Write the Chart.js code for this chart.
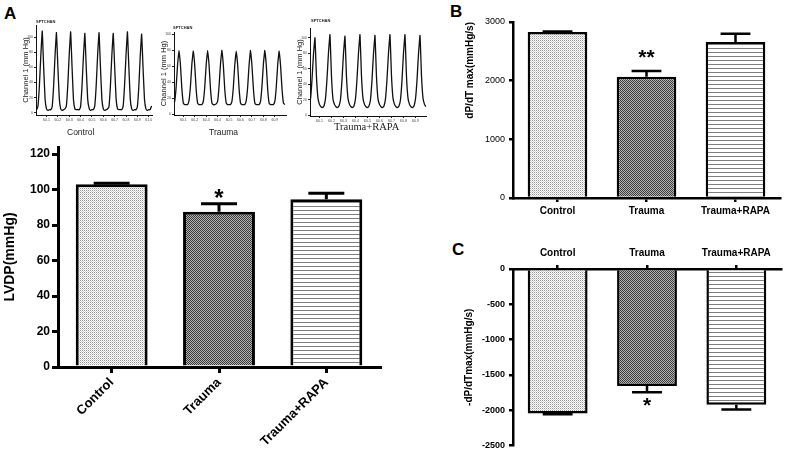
<!DOCTYPE html>
<html>
<head>
<meta charset="utf-8">
<script src="https://cdn.jsdelivr.net/npm/chart.js"></script>
<style>
  body { margin: 0; background: #fff; }
  #fig { position: relative; width: 786px; height: 455px; overflow: hidden; font-family: "Liberation Sans", Arial, sans-serif; }
  #fig canvas { position: absolute; }
  .txt { position: absolute; white-space: nowrap; color: #000; }
  .tag { font-weight: bold; font-size: 17px; line-height: 17px; }
  .cap { font-size: 8.5px; line-height: 9px; color: #222; }
  .hdr { font-size: 4px; line-height: 4px; font-weight: bold; color: #222; }
</style>
</head>
<body>
<div id="fig">
  <div class="txt tag" style="left:4px;top:5px">A</div>
  <div class="txt tag" style="left:450px;top:3px">B</div>
  <div class="txt tag" style="left:452px;top:241px">C</div>

  <canvas id="ctrlTrace" width="140" height="110" style="left:20px;top:18px"></canvas>
  <canvas id="traumaTrace" width="135" height="110" style="left:158px;top:18px"></canvas>
  <canvas id="rapaTrace" width="140" height="110" style="left:294px;top:18px"></canvas>
  <div class="txt hdr" style="left:36px;top:20px">SPTCHAN</div>
  <div class="txt hdr" style="left:173px;top:26px">SPTCHAN</div>
  <div class="txt hdr" style="left:311px;top:19px">SPTCHAN</div>
  <div class="txt cap" style="left:67px;top:128px">Control</div>
  <div class="txt cap" style="left:209px;top:128px">Trauma</div>
  <div class="txt cap" style="left:334px;top:121px;font-family:'Liberation Serif',serif;font-size:10.5px;line-height:11px">Trauma+RAPA</div>

  <canvas id="lvdpChart" width="400" height="325" style="left:0px;top:130px"></canvas>
  <canvas id="dpMaxChart" width="326" height="220" style="left:460px;top:0px"></canvas>
  <canvas id="dpMinChart" width="326" height="235" style="left:460px;top:220px"></canvas>
</div>

<script>
// groups and values
const groups = ['Control', 'Trauma', 'Trauma+RAPA'];

const lvdpMean = [103, 87.5, 94.5];
const lvdpSem = [0.5, 4.5, 3.5];
const lvdpStars = ['', '*', ''];

const dpMaxMean = [2830, 2065, 2660];
const dpMaxSem = [10, 100, 140];
const dpMaxStars = ['', '**', ''];

const dpMinMean = [-2045, -1655, -1920];
const dpMinSem = [10, 90, 70];
const dpMinStars = ['', '*', ''];

// pressure traces (mm Hg), sampled by eye, 10 samples per beat
const ctrlTrace = [
  4, 4, 9, 36, 76, 108, 60, 18, 5, 3,
  4, 4, 8, 35, 75, 106, 61, 19, 5, 3,
  4, 5, 9, 37, 77, 107, 60, 17, 5, 4,
  4, 4, 8, 35, 74, 105, 59, 18, 6, 3,
  4, 4, 9, 36, 76, 106, 60, 18, 5, 3,
  4, 5, 8, 35, 75, 105, 61, 19, 5, 4,
  4, 4, 9, 37, 76, 107, 60, 18, 5, 3,
  4, 4, 8, 34, 74, 104, 59, 18, 5, 3,
  4, 4, 9
];
const traumaTrace = [
  12, 12, 16, 34, 62, 80, 62, 32, 14, 12,
  12, 12, 17, 35, 63, 79, 61, 31, 14, 12,
  12, 12, 16, 34, 62, 80, 62, 32, 14, 12,
  12, 13, 16, 35, 63, 80, 61, 31, 14, 12,
  12, 12, 16, 34, 62, 79, 62, 32, 14, 12,
  12, 12, 17, 34, 62, 80, 61, 32, 14, 12,
  12, 12, 16, 35, 63, 80, 62, 31, 14, 12,
  12, 12, 16, 34, 62, 79, 61, 32, 14, 12
];
const rapaTrace = [
  10, 12, 20, 45, 78, 100, 50, 22, 14, 11,
  10, 12, 21, 46, 80, 104, 51, 21, 14, 11,
  10, 12, 20, 45, 79, 102, 50, 22, 14, 11,
  10, 12, 21, 46, 80, 104, 51, 22, 14, 11,
  10, 12, 20, 45, 79, 103, 50, 21, 14, 11,
  10, 12, 21, 46, 80, 104, 51, 22, 14, 11,
  10, 12, 20, 45, 80, 104, 50, 22, 14, 11,
  10, 12, 21, 45, 79, 103, 51, 22, 14, 11
];
const traceTimeLabels = ['60.1', '60.2', '60.3', '60.4', '60.5', '60.6', '60.7', '60.8', '60.9', '61.0'];

const family = '"Liberation Sans", Arial, sans-serif';
Chart.defaults.font.family = family;
Chart.defaults.color = '#000';

// fill patterns for the three bars
function makePattern(w, h, paint) {
  const c = document.createElement('canvas');
  c.width = w;
  c.height = h;
  const g = c.getContext('2d');
  paint(g);
  return g.createPattern(c, 'repeat');
}
const dotFill = makePattern(2, 2, g => {
  g.fillStyle = '#fff'; g.fillRect(0, 0, 2, 2);
  g.fillStyle = '#9a9a9a'; g.fillRect(0, 0, 1, 1);
  g.fillStyle = '#d2d2d2'; g.fillRect(1, 1, 1, 1);
});
const checkFill = makePattern(2, 2, g => {
  g.fillStyle = '#b4b4b4'; g.fillRect(0, 0, 2, 2);
  g.fillStyle = '#3a3a3a'; g.fillRect(0, 0, 1, 1); g.fillRect(1, 1, 1, 1);
});
const stripeFill = makePattern(1, 4, g => {
  g.fillStyle = '#fff'; g.fillRect(0, 0, 1, 4);
  g.fillStyle = '#7e7e7e'; g.fillRect(0, 0, 1, 1);
});

// SEM whiskers and significance marks
const errorBars = {
  id: 'errorBars',
  afterDatasetsDraw(chart, args, opts) {
    const { ctx } = chart;
    const y = chart.scales.y;
    const meta = chart.getDatasetMeta(0);
    ctx.save();
    ctx.strokeStyle = '#000';
    ctx.fillStyle = '#000';
    ctx.lineWidth = opts.width;
    meta.data.forEach((bar, i) => {
      const mean = opts.mean[i];
      const tip = mean + Math.sign(mean) * opts.sem[i];
      const y0 = y.getPixelForValue(mean);
      const y1 = y.getPixelForValue(tip);
      const half = bar.width * opts.cap / 2;
      ctx.beginPath();
      ctx.moveTo(bar.x, y0);
      ctx.lineTo(bar.x, y1);
      ctx.moveTo(bar.x - half, y1);
      ctx.lineTo(bar.x + half, y1);
      ctx.stroke();
      if (opts.stars[i]) {
        ctx.font = 'bold ' + opts.starSize + 'px ' + family;
        ctx.textAlign = 'center';
        ctx.textBaseline = 'alphabetic';
        ctx.fillText(opts.stars[i], bar.x, y1 + opts.starDy);
      }
    });
    ctx.restore();
  }
};

function makeBars(id, o) {
  return new Chart(document.getElementById(id), {
    type: 'bar',
    data: {
      labels: groups,
      datasets: [{
        data: o.mean,
        backgroundColor: [dotFill, checkFill, stripeFill],
        borderColor: '#000',
        borderWidth: o.line,
        barPercentage: 0.67,
        categoryPercentage: 1
      }]
    },
    options: {
      responsive: false,
      animation: false,
      layout: { padding: o.pad },
      plugins: {
        legend: { display: false },
        tooltip: { enabled: false },
        errorBars: { mean: o.mean, sem: o.sem, stars: o.stars, width: o.line, cap: 0.5, starSize: o.starSize, starDy: o.starDy }
      },
      scales: {
        x: {
          position: o.xPos,
          grid: { drawOnChartArea: false, offset: false, color: '#000', lineWidth: o.line, tickLength: o.tick },
          border: { color: '#000', width: o.line },
          ticks: { autoSkip: false, color: '#000', font: { size: o.xFont, weight: 'bold' }, minRotation: o.rot, maxRotation: o.rot, padding: o.xPad },
          afterFit: s => { s.height = o.xH; }
        },
        y: {
          min: o.min,
          max: o.max,
          grid: { drawOnChartArea: false, color: '#000', lineWidth: o.line, tickLength: o.tick },
          border: { color: '#000', width: o.line },
          ticks: { stepSize: o.step, includeBounds: false, color: '#000', font: { size: o.yFont, weight: o.yWeight }, padding: o.yPad,
                   callback: v => String(v) },
          title: { display: true, text: o.title, align: o.titleAlign, color: '#000', font: { size: o.titleSize, weight: 'bold' }, padding: { top: o.titlePad, bottom: 0 } },
          afterFit: s => { s.width = o.yW; }
        }
      }
    },
    plugins: [errorBars]
  });
}

function makeTrace(id, values, o) {
  return new Chart(document.getElementById(id), {
    type: 'line',
    data: {
      datasets: [{
        data: values.map((v, i) => ({ x: i, y: v })),
        borderColor: '#111',
        borderWidth: 1.3,
        pointRadius: 0,
        tension: 0.1,
        fill: false
      }]
    },
    options: {
      responsive: false,
      animation: false,
      layout: { padding: o.pad },
      plugins: { legend: { display: false }, tooltip: { enabled: false } },
      scales: {
        x: {
          type: 'linear',
          min: o.xMin,
          max: o.xMax,
          grid: { drawOnChartArea: false, color: '#222', tickLength: 2 },
          border: { color: '#111', width: 1 },
          ticks: { stepSize: 8, includeBounds: false, autoSkip: false, maxRotation: 0, padding: 1, color: '#444', font: { size: 3.5 },
                   callback: (v, i) => traceTimeLabels[i] ?? '' },
          afterFit: s => { s.height = o.xH; }
        },
        y: {
          min: o.yMin,
          max: o.yMax,
          grid: { drawOnChartArea: false, color: '#222', tickLength: 2 },
          border: { color: '#111', width: 1 },
          ticks: { stepSize: 20, includeBounds: false, padding: 1, color: '#444', font: { size: 3.5 }, callback: v => String(v) },
          title: { display: true, text: 'Channel 1 (mm Hg)', color: '#222', font: { size: 7.5 }, padding: { top: 1, bottom: 0 } },
          afterFit: s => { s.width = 16; }
        }
      }
    }
  });
}

makeTrace('ctrlTrace', ctrlTrace, { pad: { top: 7, right: 8, bottom: 0, left: 0 }, xH: 13, xMin: 0.6, xMax: 82.3, yMin: -3, yMax: 116 });
makeTrace('traumaTrace', traumaTrace, { pad: { top: 14, right: 7, bottom: 0, left: 0 }, xH: 13, xMin: 1.5, xMax: 79.8, yMin: -1, yMax: 103 });
makeTrace('rapaTrace', rapaTrace, { pad: { top: 10, right: 8, bottom: 0, left: 0 }, xH: 12, xMin: 1.7, xMax: 79, yMin: -1, yMax: 112.5 });

makeBars('lvdpChart', {
  mean: lvdpMean, sem: lvdpSem, stars: lvdpStars,
  pad: { top: 17, right: 20, bottom: 0, left: 0 },
  line: 3, tick: 6, xPos: 'bottom', xFont: 13, rot: 45, xPad: 2, xH: 88,
  min: 0, max: 124, step: 20, yFont: 12, yWeight: 'bold', yPad: 2, yW: 58,
  title: 'LVDP(mmHg)', titleAlign: 'center', titleSize: 14, titlePad: 2,
  starSize: 24, starDy: 2
});

makeBars('dpMaxChart', {
  mean: dpMaxMean, sem: dpMaxSem, stars: dpMaxStars,
  pad: { top: 22, right: 6, bottom: 0, left: 0 },
  line: 2.5, tick: 4, xPos: 'bottom', xFont: 10, rot: 0, xPad: 3, xH: 22,
  min: 0, max: 3000, step: 1000, yFont: 9, yWeight: 'normal', yPad: 4, yW: 53,
  title: 'dP/dT max(mmHg/s)', titleAlign: 'end', titleSize: 10, titlePad: 4,
  starSize: 21, starDy: -7
});

makeBars('dpMinChart', {
  mean: dpMinMean, sem: dpMinSem, stars: dpMinStars,
  pad: { top: 0, right: 5, bottom: 7, left: 0 },
  line: 2.5, tick: 4, xPos: 'top', xFont: 10, rot: 0, xPad: 6, xH: 49,
  min: -2500, max: 0, step: 500, yFont: 9, yWeight: 'bold', yPad: 4, yW: 53,
  title: '-dP/dTmax(mmHg/s)', titleAlign: 'center', titleSize: 10, titlePad: 3,
  starSize: 21, starDy: 20
});
</script>
</body>
</html>
